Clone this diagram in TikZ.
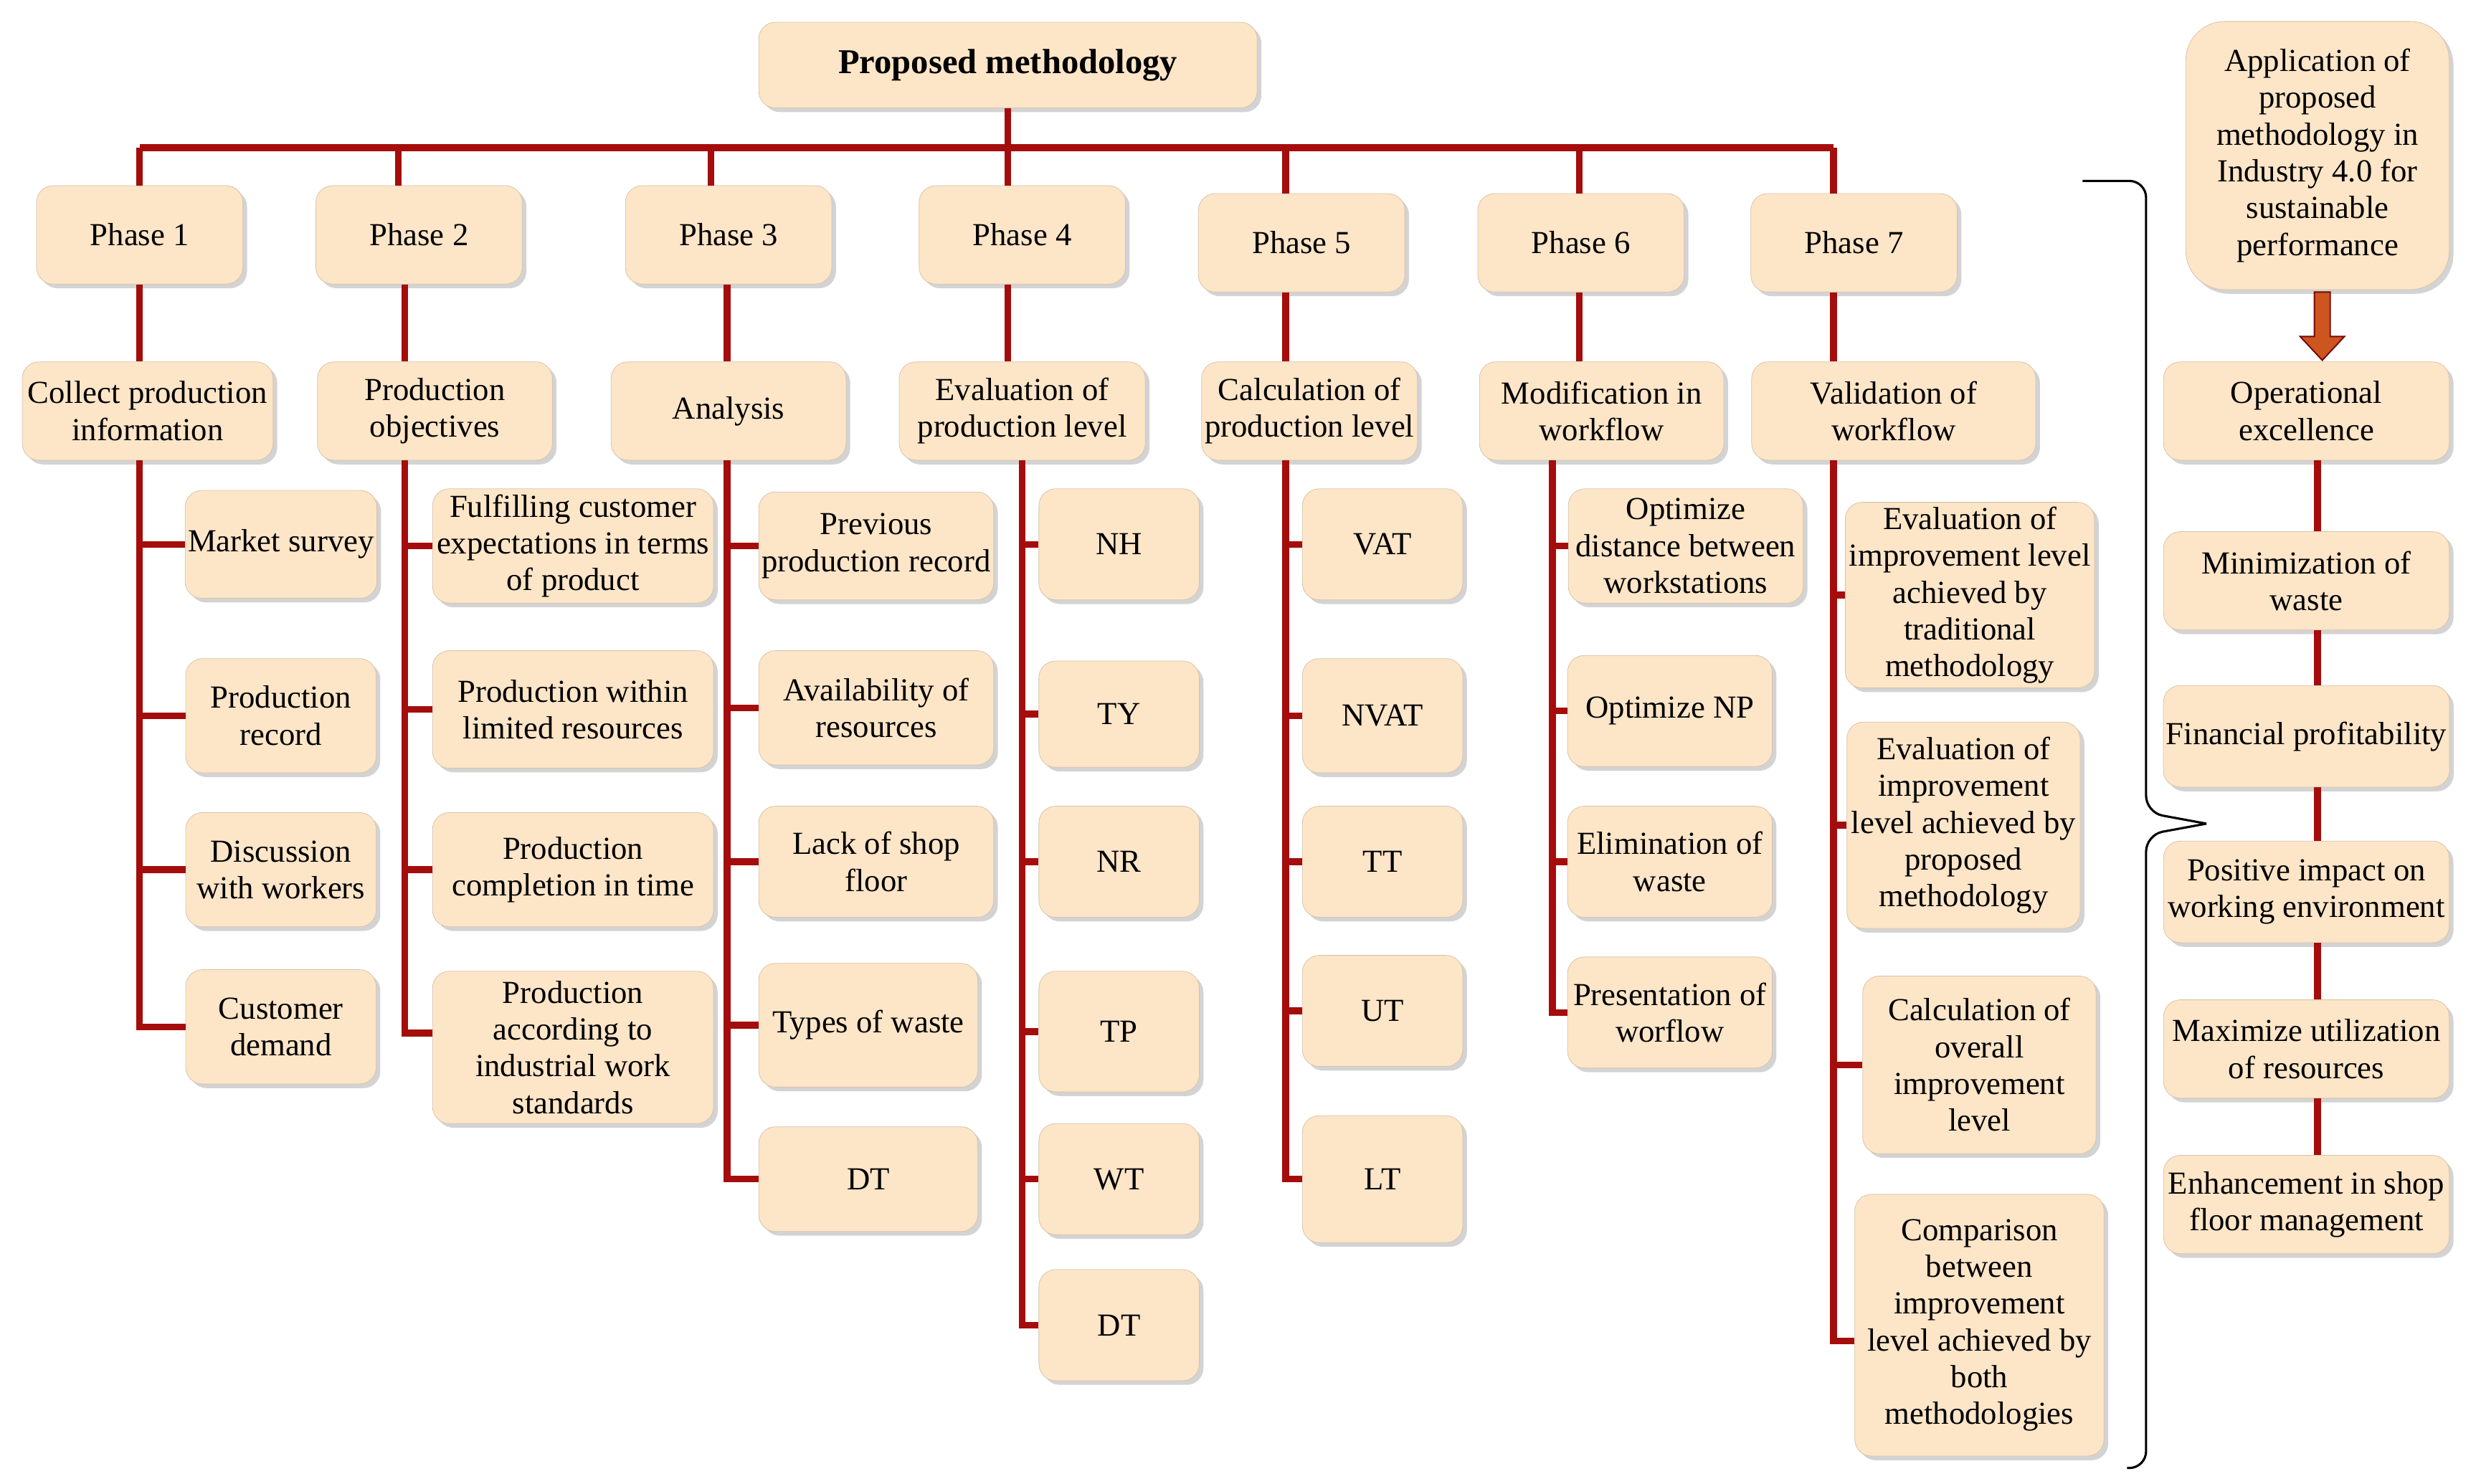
\documentclass[tikz,border=0pt]{standalone}
\usepackage{fontspec}
\setmainfont{Liberation Serif}
\usetikzlibrary{shadows,arrows.meta,calc}
\definecolor{boxfill}{RGB}{253,229,200}
\definecolor{lnred}{RGB}{165,12,12}
\definecolor{arr}{RGB}{205,85,30}
\tikzset{
  box/.style={fill=boxfill,draw=boxfill!85!black,line width=0.2pt,rounded corners=6pt,align=center,inner sep=1pt,
    font=\fontsize{11.5}{13.2}\selectfont,drop shadow={opacity=0.35,shadow xshift=1.5pt,shadow yshift=-1.5pt}},
  ln/.style={draw=lnred,line width=2.4pt},
}
\newcommand{\B}[6]{\node[box,minimum width=#4*0.02cm,minimum height=#5*0.02cm] (#1) at (#2,#3) {#6};}
\begin{document}
\begin{tikzpicture}[x=0.02cm,y=-0.02cm]
\useasboundingbox (0,0) rectangle (1563,935);
% top
\node[box,minimum width=314*0.02cm,minimum height=54*0.02cm,font=\fontsize{12.5}{14}\selectfont\bfseries] (top) at (635,41) {Proposed methodology};
\B{p1}{88}{148}{130}{62}{Phase 1}
\B{p2}{264}{148}{130}{62}{Phase 2}
\B{p3}{459}{148}{130}{62}{Phase 3}
\B{p4}{644}{148}{130}{62}{Phase 4}
\B{p5}{820}{153}{130}{62}{Phase 5}
\B{p6}{996}{153}{130}{62}{Phase 6}
\B{p7}{1168}{153}{130}{62}{Phase 7}
\coordinate (bus) at (635,93);
\draw[ln] (top.south) -- (bus);
\draw[ln] (88,93) -- (1155,93);
\foreach \n/\x in {p1/88,p2/251,p3/448,p4/635,p5/810,p6/995,p7/1155}
  \draw[ln] (\x,93) -- (\n.north -| \x,0);
% second level
\B{s1}{93}{259}{158}{62}{Collect production\\information}
\B{s2}{274}{259}{148}{62}{Production\\objectives}
\B{s3}{459}{259}{148}{62}{Analysis}
\B{s4}{644}{259}{155}{62}{Evaluation of\\production level}
\B{s5}{825}{259}{136}{62}{Calculation of\\production level}
\B{s6}{1009}{259}{154}{62}{Modification in\\workflow}
\B{s7}{1193}{259}{179}{62}{Validation of\\workflow}
\foreach \a/\b/\x in {p1/s1/88,p2/s2/255,p3/s3/458,p4/s4/635,p5/s5/810,p6/s6/995,p7/s7/1155}
  \draw[ln] (\a.south -| \x,0) -- (\b.north -| \x,0);
% col1
\B{a1}{177}{343}{120}{68}{Market survey}
\B{a2}{177}{451}{120}{72}{Production\\record}
\B{a3}{177}{548}{120}{72}{Discussion\\with workers}
\B{a4}{177}{647}{120}{72}{Customer\\demand}
% col2
\B{b1}{361}{344}{177}{72}{Fulfilling customer\\expectations in terms\\of product}
\B{b2}{361}{447}{177}{74}{Production within\\limited resources}
\B{b3}{361}{548}{177}{72}{Production\\completion in time}
\B{b4}{361}{660}{177}{96}{Production\\according to\\industrial work\\standards}
% col3
\B{c1}{552}{344}{148}{68}{Previous\\production record}
\B{c2}{552}{446}{148}{72}{Availability of\\resources}
\B{c3}{552}{543}{148}{70}{Lack of shop\\floor}
\B{c4}{547}{646}{138}{78}{Types of waste}
\B{c5}{547}{743}{138}{66}{DT}
% col4
\B{d1}{705}{343}{101}{70}{NH}
\B{d2}{705}{450}{101}{67}{TY}
\B{d3}{705}{543}{101}{70}{NR}
\B{d4}{705}{650}{101}{76}{TP}
\B{d5}{705}{743}{101}{70}{WT}
\B{d6}{705}{835}{101}{70}{DT}
% col5
\B{e1}{871}{343}{101}{70}{VAT}
\B{e2}{871}{451}{101}{72}{NVAT}
\B{e3}{871}{543}{101}{70}{TT}
\B{e4}{871}{637}{101}{70}{UT}
\B{e5}{871}{743}{101}{80}{LT}
% col6
\B{f1}{1062}{344}{148}{72}{Optimize\\distance between\\workstations}
\B{f2}{1052}{448}{129}{70}{Optimize NP}
\B{f3}{1052}{543}{129}{70}{Elimination of\\waste}
\B{f4}{1052}{638}{129}{70}{Presentation of\\worflow}
% col7
\B{g1}{1241}{375}{157}{117}{Evaluation of\\improvement level\\achieved by\\traditional\\methodology}
\B{g2}{1237}{520}{147}{130}{Evaluation of\\improvement\\level achieved by\\proposed\\methodology}
\B{g3}{1247}{671}{147}{112}{Calculation of\\overall\\improvement\\level}
\B{g4}{1247}{835}{157}{165}{Comparison\\between\\improvement\\level achieved by\\both\\methodologies}
% trunks
\coordinate (t1) at (88,0); \coordinate (t2) at (255,0); \coordinate (t3) at (458,0);
\coordinate (t4) at (644,0); \coordinate (t5) at (810,0); \coordinate (t6) at (978,0);
\coordinate (t7) at (1155,0);
\draw[ln] (s1.south -| t1) |- (a4.west);
\foreach \n in {a1,a2,a3} \draw[ln] (\n.west -| t1) -- (\n.west);
\draw[ln] (s2.south -| t2) |- ($(b4.west)+(0,-9)$);
\foreach \n in {b1,b2,b3} \draw[ln] (\n.west -| t2) -- (\n.west);
\draw[ln] (s3.south -| t3) |- (c5.west);
\foreach \n in {c1,c2,c3,c4} \draw[ln] (\n.west -| t3) -- (\n.west);
\draw[ln] (s4.south -| t4) |- (d6.west);
\foreach \n in {d1,d2,d3,d4,d5} \draw[ln] (\n.west -| t4) -- (\n.west);
\draw[ln] (s5.south -| t5) |- (e5.west);
\foreach \n in {e1,e2,e3,e4} \draw[ln] (\n.west -| t5) -- (\n.west);
\draw[ln] (s6.south -| t6) |- (f4.west);
\foreach \n in {f1,f2,f3} \draw[ln] (\n.west -| t6) -- (\n.west);
\draw[ln] (s7.south -| t7) |- ($(g4.west)+(0,10)$);
\foreach \n in {g1,g2,g3} \draw[ln] (\n.west -| t7) -- (\n.west);
% right column
\node[box,rounded corners=14pt,minimum width=166*0.02cm,minimum height=169*0.02cm] (r0) at (1460,98) {Application of\\proposed\\methodology in\\Industry 4.0 for\\sustainable\\performance};
\B{r1}{1453}{259}{180}{62}{Operational\\excellence}
\B{r2}{1453}{366}{180}{62}{Minimization of\\waste}
\B{r3}{1453}{464}{180}{64}{Financial profitability}
\B{r4}{1453}{562}{180}{64}{Positive impact on\\working environment}
\B{r5}{1453}{661}{180}{62}{Maximize utilization\\of resources}
\B{r6}{1453}{759}{180}{62}{Enhancement in shop\\floor management}
\draw[draw=lnred!70!black,line width=0.5pt,fill=arr] (1458,184) -- (1468,184) -- (1468,212) -- (1477,212) -- (1463,227) -- (1449,212) -- (1458,212) -- cycle;
\foreach \a/\b in {r1/r2,r2/r3,r3/r4,r4/r5,r5/r6}
  \draw[ln] (\a.south -| 1460,0) -- (\b.north -| 1460,0);
% bracket
\draw[line width=0.8pt,rounded corners=6pt] (1312,114) -- (1352,114) -- (1352,512) -- (1390,519);
\draw[line width=0.8pt,rounded corners=6pt] (1390,519) -- (1352,526) -- (1352,925) -- (1340,925);
\end{tikzpicture}
\end{document}
